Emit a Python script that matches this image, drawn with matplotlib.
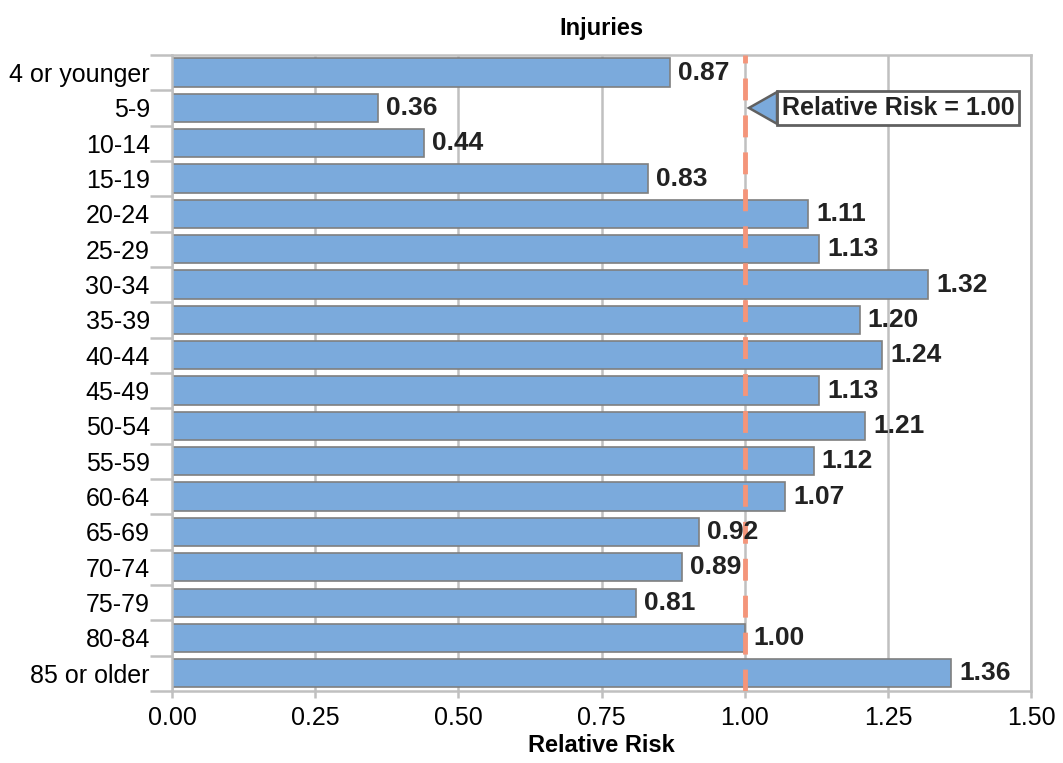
import matplotlib

matplotlib.use("Agg")
import matplotlib.pyplot as plt
from matplotlib.patches import Polygon

# relative risk of injury by age group
ages = [
    "4 or younger", "5-9", "10-14", "15-19", "20-24", "25-29", "30-34",
    "35-39", "40-44", "45-49", "50-54", "55-59", "60-64", "65-69",
    "70-74", "75-79", "80-84", "85 or older",
]
risk = [0.87, 0.36, 0.44, 0.83, 1.11, 1.13, 1.32, 1.20, 1.24, 1.13,
        1.21, 1.12, 1.07, 0.92, 0.89, 0.81, 1.00, 1.36]
xticks = [0.0, 0.25, 0.5, 0.75, 1.0, 1.25, 1.5]
ref_value = 1.00
ref_label = "Relative Risk = 1.00"

plt.rcParams["font.family"] = ["Liberation Sans", "DejaVu Sans"]
GRID = "#c0c0c0"
BAR = "#7baadc"

fig = plt.figure(figsize=(10.63, 7.63), dpi=100)
ax = fig.add_axes([0.1618, 0.0944, 0.8085, 0.8336])

ypos = list(range(len(ages)))
ax.barh(ypos, risk, height=0.8, color=BAR, edgecolor="#7f7f7f",
        linewidth=1.2, zorder=2)
for y, v in zip(ypos, risk):
    ax.text(v + 0.014, y, f"{v:.2f}", ha="left", va="center",
            fontsize=19, fontweight="bold", color="#222222", zorder=5)

# reference line at 1.00
ax.axvline(ref_value, color="#f4957a", linewidth=3.5,
           linestyle=(0, (4.5, 3.1)), zorder=3)

ax.set_xlim(0, 1.5)
ax.set_ylim(len(ages) - 0.5, -0.5)
ax.set_xticks(xticks)
ax.set_xticklabels([f"{t:.2f}" for t in xticks], fontsize=18)
ax.set_yticks(ypos)
ax.set_yticklabels(ages, fontsize=18)
ax.set_yticks([y - 0.5 for y in range(len(ages) + 1)], minor=True)
ax.tick_params(axis="y", which="major", length=0, pad=16)
ax.tick_params(axis="y", which="minor", length=16, width=1.8, color=GRID)
ax.tick_params(axis="x", length=5, width=1.8, color=GRID, pad=6)
ax.grid(True, axis="x", color=GRID, linewidth=1.8, zorder=0)
ax.set_axisbelow(True)
for spine in ax.spines.values():
    spine.set_color(GRID)
    spine.set_linewidth(1.8)

# callout box with a blue pointer to the reference line
ax.text(1.064, 1, ref_label, ha="left", va="center", fontsize=18,
        fontweight="bold", color="#222222", zorder=6,
        bbox=dict(boxstyle="square,pad=0.2", facecolor="white",
                  edgecolor="#606060", linewidth=2))
ax.add_patch(Polygon([(1.007, 1), (1.056, 0.55), (1.056, 1.45)],
                     closed=True, facecolor=BAR, edgecolor="#606060",
                     linewidth=1.8, zorder=6))

ax.set_title("Injuries", fontsize=17, fontweight="bold", pad=14)
ax.set_xlabel("Relative Risk", fontsize=17, fontweight="bold", labelpad=3)

fig.savefig("out.png", dpi=100)
plt.close(fig)
